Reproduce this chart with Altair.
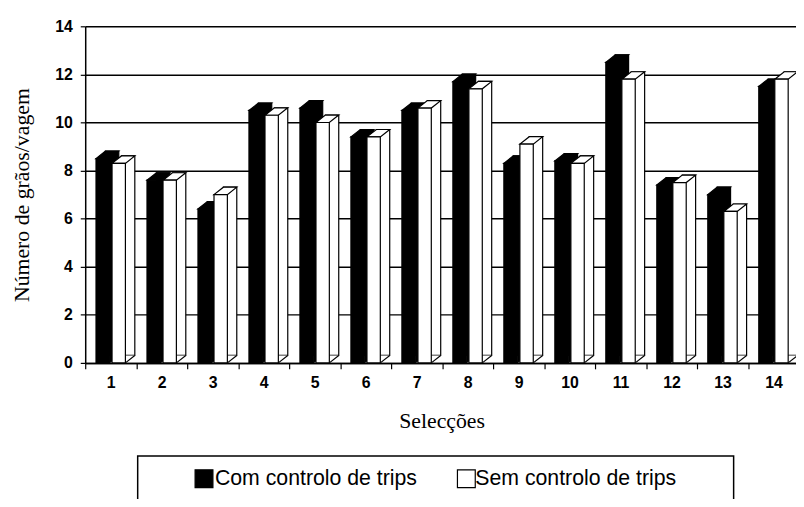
import altair as alt
import pandas as pd

# ---------------- data ----------------
categories = ["1", "2", "3", "4", "5", "6", "7", "8", "9", "10", "11", "12", "13", "14"]
series = ["Com controlo de trips", "Sem controlo de trips"]
com_values = [8.5, 7.6, 6.4, 10.5, 10.6, 9.4, 10.5, 11.7, 8.3, 8.4, 12.5, 7.4, 7.0, 11.5]
sem_values = [8.3, 7.6, 7.0, 10.3, 10.0, 9.4, 10.6, 11.4, 9.1, 8.3, 11.8, 7.5, 6.3, 11.8]
series_colors = ["black", "white"]
y_ticks = [0, 2, 4, 6, 8, 10, 12, 14]

rows = []
for s, vals in zip(series, [com_values, sem_values]):
    for c, v in zip(categories, vals):
        rows.append({"Selecção": c, "Série": s, "Valor": v})
df = pd.DataFrame(rows)

# ---------------- layout / style ----------------
FRONT_W = 13.5
HALF = FRONT_W / 2
DX, DY = 9.5, -7.5
SERIES_OFF = {series[0]: -8.1, series[1]: 8.1}
SW = 1.2
SANS = "Liberation Sans"
SERIF = "Liberation Serif"

x_enc = alt.X(
    "Selecção:N",
    sort=categories,
    scale=alt.Scale(domain=categories, range=[0, 721], paddingInner=0, paddingOuter=0),
    axis=alt.Axis(
        title="Selecções",
        titleFont=SERIF, titleFontSize=22, titleFontWeight="normal", titleColor="black",
        titleX=360, titleY=58, titleAlign="center", titleBaseline="middle",
        labelFont=SANS, labelFontSize=16, labelFontWeight="bold", labelColor="black",
        labelAngle=0, labelPadding=6,
        tickBand="extent", tickSize=6, tickColor="black", tickWidth=1.2,
        domainColor="black", domainWidth=1.5, grid=False,
    ),
)
y_enc = alt.Y(
    "Valor:Q",
    scale=alt.Scale(domain=[0, 14], nice=False),
    axis=alt.Axis(
        values=y_ticks,
        title="Número de grãos/vagem",
        titleFont=SERIF, titleFontSize=22, titleFontWeight="normal", titleColor="black",
        titleX=-64, titleY=170, titleAngle=270, titleAlign="center", titleBaseline="middle",
        labelFont=SANS, labelFontSize=16, labelFontWeight="bold", labelColor="black",
        labelPadding=8, tickSize=5, tickColor="black", tickWidth=1.2,
        domainColor="black", domainWidth=1.5,
        grid=True, gridColor="black", gridWidth=1.5,
    ),
)
color_enc = alt.Color("Série:N", scale=alt.Scale(domain=series, range=series_colors), legend=None)

base = alt.Chart(df)
layers = []
top_path = f"M{-HALF},0L{HALF},0L{HALF + DX},{DY}L{-HALF + DX},{DY}Z"
fill_path = f"M{HALF},0L{HALF},{DY}L{HALF + DX},{DY}Z"
diag_path = f"M{HALF},0L{HALF + DX},{DY}"

for s in series:
    off = SERIES_OFF[s]
    sub = base.transform_filter(alt.datum["Série"] == s)
    back = sub.mark_bar(width=FRONT_W, xOffset=off + DX, yOffset=DY, y2Offset=DY,
                        stroke="black", strokeWidth=SW).encode(x=x_enc, y=y_enc, color=color_enc)
    filler = sub.mark_point(shape=fill_path, size=4, filled=True, opacity=1, strokeWidth=0,
                            xOffset=off).encode(x=x_enc, y=alt.datum(0), color=color_enc)
    diag = sub.mark_point(shape=diag_path, size=4, filled=False, opacity=1, stroke="black",
                          strokeWidth=SW, xOffset=off).encode(x=x_enc, y=alt.datum(0))
    top = sub.mark_point(shape=top_path, size=4, filled=True, opacity=1, stroke="black",
                         strokeWidth=SW, xOffset=off).encode(x=x_enc, y=y_enc, color=color_enc)
    front = sub.mark_bar(width=FRONT_W, xOffset=off, stroke="black",
                         strokeWidth=SW).encode(x=x_enc, y=y_enc, color=color_enc)
    layers += [back, filler, diag, top, front]

# ---------------- legend (manual, boxed) ----------------
legend_box = alt.Chart(alt.Data(values=[{"k": 1}])).mark_rect(
    fill="white", stroke="black", strokeWidth=1.5
).encode(x=alt.value(53), x2=alt.value(655), y=alt.value(434), y2=alt.value(520))
layers.append(legend_box)

legend_sym_x = [120, 385]
legend_txt_x = [131, 394]
legend_y = 457
for s, sx, tx in zip(series, legend_sym_x, legend_txt_x):
    d = alt.Data(values=[{"Série": s}])
    sq = alt.Chart(d).mark_square(size=324, filled=True, opacity=1, stroke="black",
                                  strokeWidth=1.2).encode(
        x=alt.value(sx), y=alt.value(legend_y), color=color_enc)
    tx_mark = alt.Chart(d).mark_text(align="left", baseline="middle", font=SANS,
                                     fontSize=21.5, color="black").encode(
        x=alt.value(tx), y=alt.value(legend_y), text="Série:N")
    layers += [sq, tx_mark]

chart = alt.layer(*layers).properties(
    width=718, height=340,
    autosize=alt.AutoSizeParams(type="none"),
    padding={"left": 78, "top": 16, "right": 0, "bottom": 135},
    background="white",
).configure_view(stroke=None)

chart.save("out.html", embed_options={"renderer": "svg", "actions": False})
